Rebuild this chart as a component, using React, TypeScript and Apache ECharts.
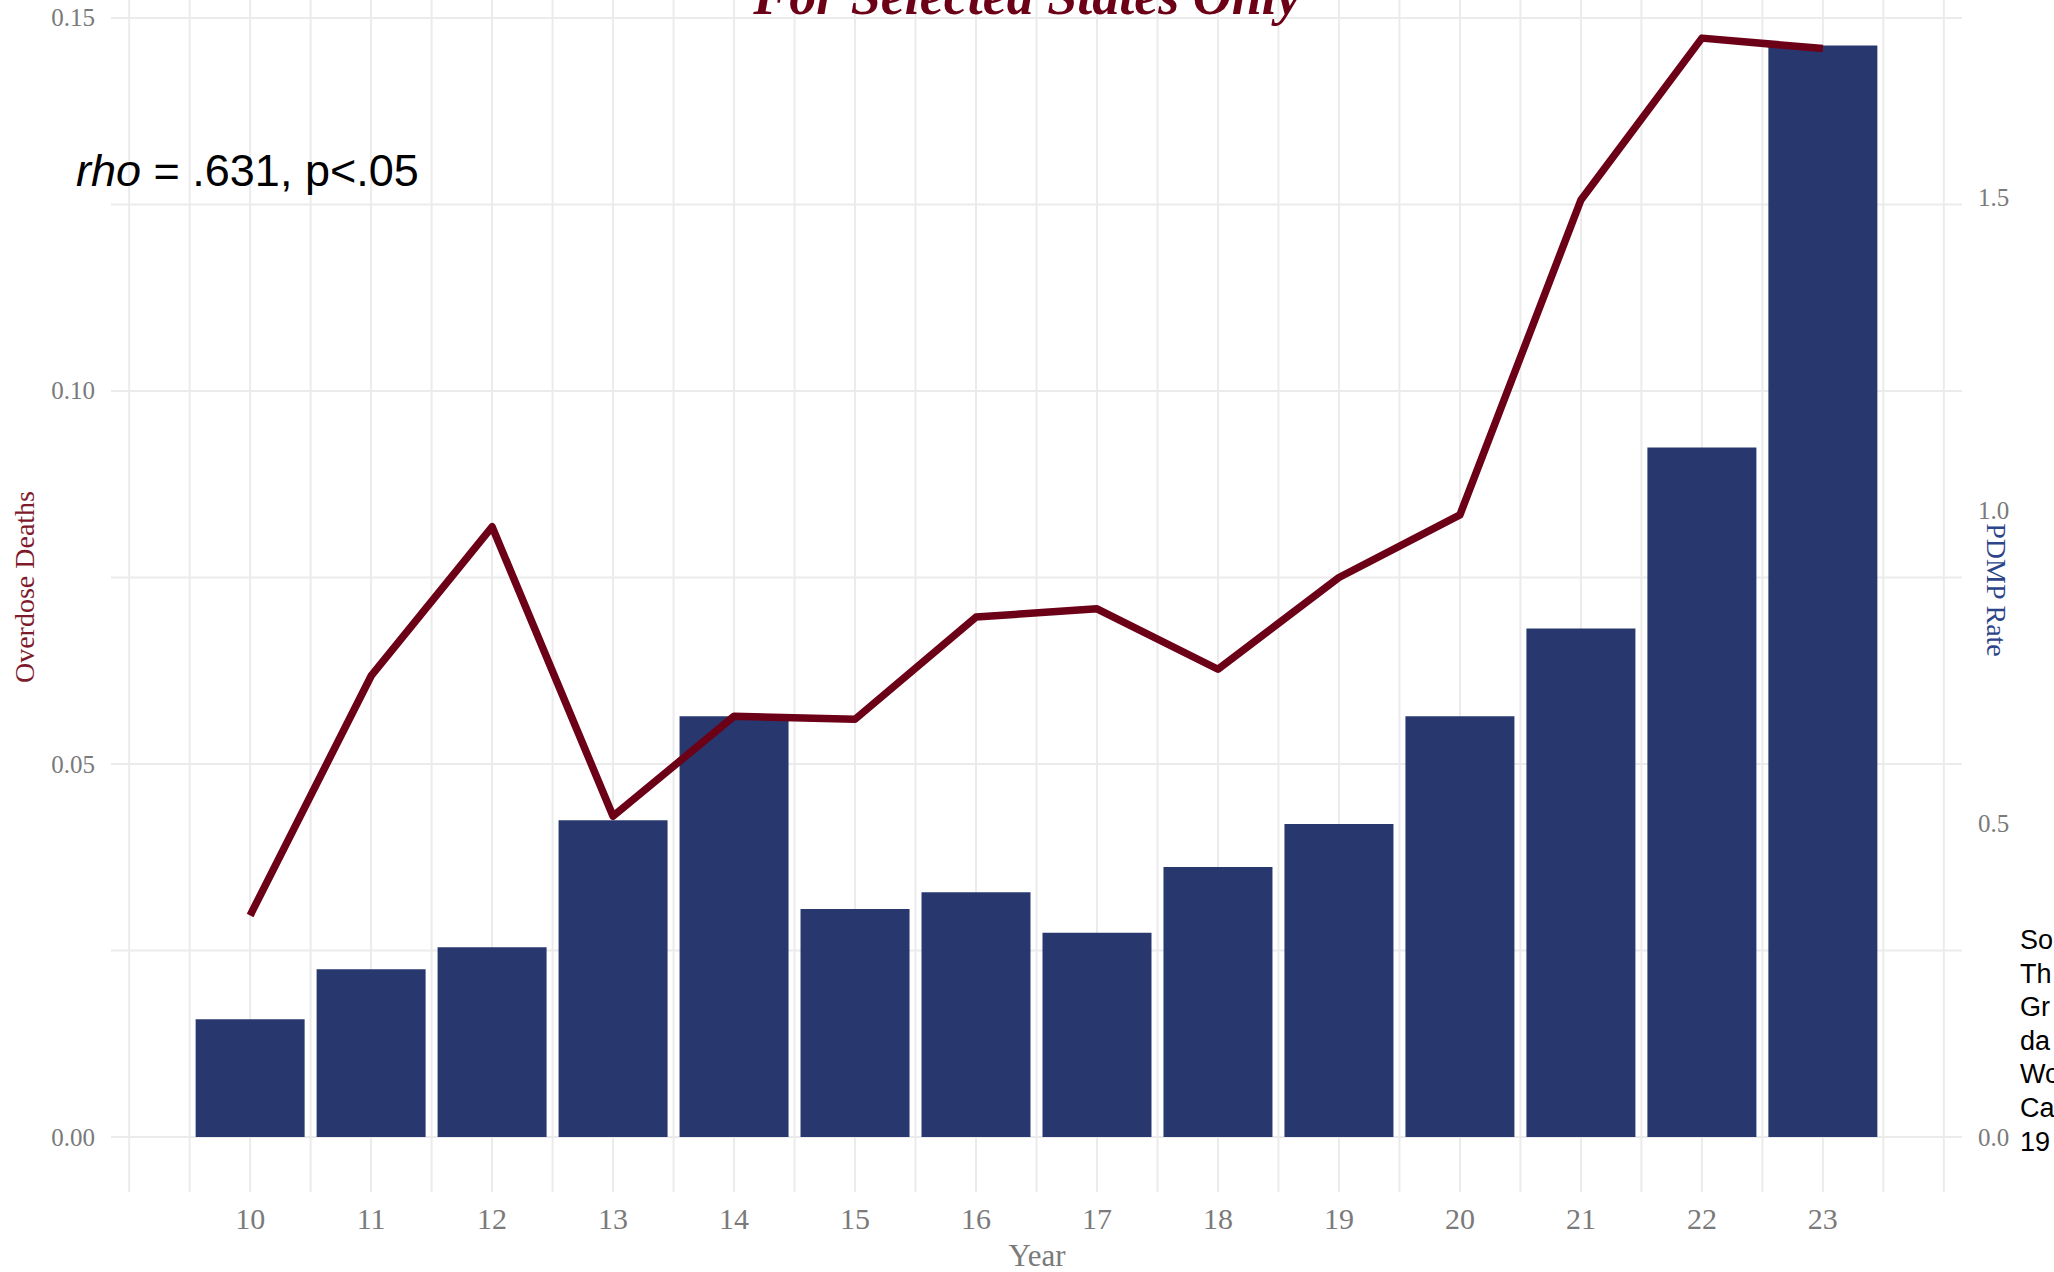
import React, { useEffect, useRef } from "react";
import * as echarts from "echarts";

const years = [10, 11, 12, 13, 14, 15, 16, 17, 18, 19, 20, 21, 22, 23];
const pdmpRate = [0.188, 0.268, 0.303, 0.506, 0.672, 0.364, 0.391, 0.326, 0.431, 0.5, 0.672, 0.812, 1.101, 1.743];
const overdoseDeaths = [0.0297, 0.0618, 0.0818, 0.043, 0.0564, 0.056, 0.0697, 0.0708, 0.0627, 0.075, 0.0834, 0.1256, 0.1473, 0.1459];
const leftTicks = [0, 0.05, 0.1, 0.15];
const rightTicks = [0, 0.5, 1.0, 1.5];
const xGridLines = [9, 9.5, 10, 10.5, 11, 11.5, 12, 12.5, 13, 13.5, 14, 14.5, 15, 15.5, 16, 16.5, 17, 17.5, 18, 18.5, 19, 19.5, 20, 20.5, 21, 21.5, 22, 22.5, 23, 23.5, 24];
const yGridLines = [0, 0.025, 0.05, 0.075, 0.1, 0.125, 0.15];
const captionLines = ["So", "Th", "Gr", "da", "Wo", "Ca", "19"];

const W = 2054;
const H = 1272;
const SERIF = "'Liberation Serif', 'DejaVu Serif', serif";
const SANS = "'Liberation Sans', Arial, sans-serif";
const GRID_COLOR = "#ebebeb";
const TICK_COLOR = "#7a7a7a";

export default function App() {
  const ref = useRef<HTMLDivElement>(null);

  useEffect(() => {
    if (!ref.current) return;
    const chart = echarts.init(ref.current, undefined, { renderer: "svg" });

    const option: any = {
      animation: false,
      backgroundColor: "#ffffff",
      grid: { left: 111, right: W - 1962, top: 0, bottom: H - 1192, containLabel: false },
      xAxis: {
        type: "value",
        min: 8.85,
        max: 24.15,
        axisLine: { show: false },
        axisTick: { show: false },
        splitLine: { show: false },
        axisLabel: {
          customValues: years,
          formatter: (v: number) => String(Math.round(v)),
          fontFamily: SERIF,
          fontSize: 30,
          color: TICK_COLOR,
          margin: 11,
        },
      },
      yAxis: [
        {
          type: "value",
          min: -0.00737,
          max: 0.15241,
          axisLine: { show: false },
          axisTick: { show: false },
          splitLine: { show: false },
          axisLabel: {
            customValues: leftTicks,
            formatter: (v: number) => v.toFixed(2),
            fontFamily: SERIF,
            fontSize: 25,
            color: TICK_COLOR,
            margin: 16,
          },
        },
        {
          type: "value",
          position: "right",
          min: -0.0878,
          max: 1.8157,
          axisLine: { show: false },
          axisTick: { show: false },
          splitLine: { show: false },
          axisLabel: {
            customValues: rightTicks,
            formatter: (v: number) => v.toFixed(1),
            fontFamily: SERIF,
            fontSize: 25,
            color: TICK_COLOR,
            margin: 16,
          },
        },
      ],
      series: [
        {
          type: "custom",
          name: "vgrid",
          silent: true,
          z: 0,
          xAxisIndex: 0,
          yAxisIndex: 0,
          data: xGridLines.map((x) => [x, 0]),
          renderItem: (params: any, api: any) => {
            const cs = params.coordSys;
            const x = api.coord([api.value(0), 0])[0];
            return {
              type: "line",
              shape: { x1: x, y1: cs.y, x2: x, y2: cs.y + cs.height },
              style: { stroke: GRID_COLOR, lineWidth: 2 },
            };
          },
        },
        {
          type: "custom",
          name: "hgrid",
          silent: true,
          z: 0,
          xAxisIndex: 0,
          yAxisIndex: 0,
          data: yGridLines.map((y) => [10, y]),
          renderItem: (params: any, api: any) => {
            const cs = params.coordSys;
            const y = api.coord([10, api.value(1)])[1];
            return {
              type: "line",
              shape: { x1: cs.x, y1: y, x2: cs.x + cs.width, y2: y },
              style: { stroke: GRID_COLOR, lineWidth: 2 },
            };
          },
        },
        {
          type: "bar",
          name: "PDMP Rate",
          yAxisIndex: 1,
          z: 2,
          barWidth: 109,
          itemStyle: { color: "#28386f" },
          data: years.map((y, i) => [y, pdmpRate[i]]),
        },
        {
          type: "line",
          name: "Overdose Deaths",
          yAxisIndex: 0,
          z: 3,
          symbol: "none",
          lineStyle: { color: "#6c0017", width: 7.5, cap: "butt", join: "round" },
          itemStyle: { color: "#6c0017" },
          data: years.map((y, i) => [y, overdoseDeaths[i]]),
        },
      ],
      graphic: [
        {
          type: "text",
          x: 1027,
          y: -4,
          z: 10,
          style: {
            text: "For Selected States Only",
            fontFamily: SERIF,
            fontSize: 54,
            fontWeight: "bold",
            fontStyle: "italic",
            fill: "#6b0016",
            textAlign: "center",
            textVerticalAlign: "middle",
          },
        },
        {
          type: "text",
          x: 76,
          y: 170,
          z: 10,
          style: {
            text: "{i|rho} = .631, p<.05",
            fontFamily: SANS,
            fontSize: 45,
            fill: "#000000",
            textAlign: "left",
            textVerticalAlign: "middle",
            rich: {
              i: { fontFamily: SANS, fontSize: 45, fontStyle: "italic", fill: "#000000" },
            },
          },
        },
        {
          type: "text",
          x: 24,
          y: 587,
          rotation: Math.PI / 2,
          style: {
            text: "Overdose Deaths",
            fontFamily: SERIF,
            fontSize: 28,
            fill: "#7d1a2c",
            textAlign: "center",
            textVerticalAlign: "middle",
          },
        },
        {
          type: "text",
          x: 1996,
          y: 590,
          rotation: -Math.PI / 2,
          style: {
            text: "PDMP Rate",
            fontFamily: SERIF,
            fontSize: 28,
            fill: "#2c4488",
            textAlign: "center",
            textVerticalAlign: "middle",
          },
        },
        {
          type: "text",
          x: 1037,
          y: 1255,
          style: {
            text: "Year",
            fontFamily: SERIF,
            fontSize: 31,
            fill: TICK_COLOR,
            textAlign: "center",
            textVerticalAlign: "middle",
          },
        },
        ...captionLines.map((t, i) => ({
          type: "text",
          x: 2020,
          y: 940 + i * 33.6,
          style: {
            text: t,
            fontFamily: SANS,
            fontSize: 27,
            fill: "#000000",
            textAlign: "left",
            textVerticalAlign: "middle",
          },
        })),
      ],
    };

    chart.setOption(option);
    return () => {
      chart.dispose();
    };
  }, []);

  return (
    <div
      ref={ref}
      style={{ position: "fixed", left: 0, top: 0, width: W, height: H, background: "#fff" }}
    />
  );
}
